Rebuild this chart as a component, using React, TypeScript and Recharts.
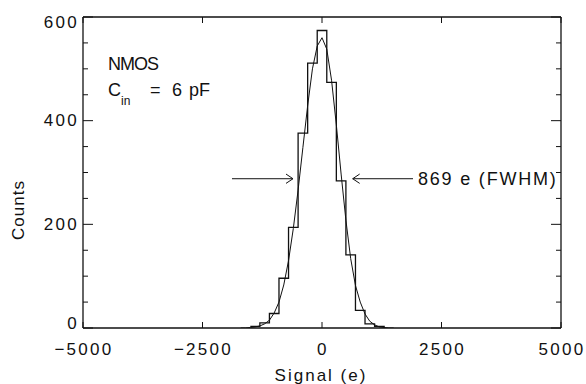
import React from 'react';
import { LineChart, Line, XAxis, YAxis, ReferenceLine } from 'recharts';

// Histogram: left bin edges (e) and counts (bin width 200 e)
const binEdges = [-1500, -1300, -1100, -900, -700, -500, -300, -100, 100, 300, 500, 700, 900, 1100, 1300];
const binCounts = [3, 10, 28, 96, 194, 376, 511, 574, 474, 284, 141, 34, 8, 3, 0];

// Fitted curve
const curveX = [-1700, -1600, -1500, -1400, -1300, -1200, -1100, -1000, -900, -800, -700, -600, -500, -400, -300, -200, -100, 0, 100, 200, 300, 400, 500, 600, 700, 800, 900, 1000, 1100, 1200, 1300, 1400, 1500];
const curveY = [0, 0, 1, 2, 4, 8, 15, 29, 50, 83, 130, 192, 266, 348, 429, 500, 544, 560, 538, 478, 392, 297, 208, 134, 82, 50, 27, 13, 6, 2, 1, 0, 0];

const xTicks = [-5000, -2500, 0, 2500, 5000];
const yTicks = [0, 50, 100, 150, 200, 250, 300, 350, 400, 450, 500, 550, 600];
const yMajor = [0, 200, 400, 600];

const fwhmLabel = '869 e (FWHM)';
const arrowLevel = 288;

const histData = binEdges.map((x, i) => ({ x, y: binCounts[i] }));
const curveData = curveX.map((x, i) => ({ x, y: curveY[i] }));

const FONT = '"Liberation Sans", Arial, sans-serif';
const INK = '#111';

const fmt = (v: number) => (v < 0 ? '\u2212' + Math.abs(v) : String(v));

const LeftTick = (props: any) => {
  const { x, y, payload } = props;
  const v = payload.value;
  const major = yMajor.includes(v);
  const len = major ? 10 : 5;
  let dy = 0;
  if (v === 600) dy = 5;
  if (v === 0) dy = -5;
  return (
    <g>
      <line x1={x} y1={y} x2={x + len} y2={y} stroke={INK} strokeWidth={1} />
      {major && (
        <text x={x - 4} y={y + dy} textAnchor="end" dominantBaseline="central" fontFamily={FONT} fontSize={17} letterSpacing={2.3} fill={INK}>
          {v}
        </text>
      )}
    </g>
  );
};

const RightTick = (props: any) => {
  const { x, y, payload } = props;
  const v = payload.value;
  const major = yMajor.includes(v);
  const len = major ? 10 : 5;
  return <line x1={x} y1={y} x2={x - len} y2={y} stroke={INK} strokeWidth={1} />;
};

const BottomTick = (props: any) => {
  const { x, y, payload } = props;
  const v = payload.value;
  return (
    <g>
      <line x1={x} y1={y} x2={x} y2={y - 6} stroke={INK} strokeWidth={1} />
      <text x={x + 1} y={y + 21.5} textAnchor="middle" dominantBaseline="central" fontFamily={FONT} fontSize={17} letterSpacing={2.3} fill={INK}>
        {fmt(v)}
      </text>
    </g>
  );
};

const TopTick = (props: any) => {
  const { x, y } = props;
  return <line x1={x} y1={y} x2={x} y2={y + 6} stroke={INK} strokeWidth={1} />;
};

const axisLine = { stroke: INK, strokeWidth: 1.3 };

export default function App() {
  const W = 586;
  const H = 384;
  return (
    <div style={{ position: 'fixed', left: 0, top: 0, width: W, height: H, background: '#fff' }}>
      <LineChart width={W} height={H} margin={{ top: 16, right: 15, bottom: 16, left: 0 }}>
        <XAxis
          xAxisId="b"
          type="number"
          dataKey="x"
          domain={[-5000, 5000]}
          ticks={xTicks}
          interval={0}
          orientation="bottom"
          height={40}
          tickSize={0}
          tickMargin={0}
          tickLine={false}
          axisLine={axisLine}
          tick={<BottomTick />}
          allowDataOverflow
        />
        <XAxis
          xAxisId="t"
          type="number"
          dataKey="x"
          domain={[-5000, 5000]}
          ticks={xTicks}
          interval={0}
          orientation="top"
          height={1}
          tickSize={0}
          tickMargin={0}
          tickLine={false}
          axisLine={axisLine}
          tick={<TopTick />}
          allowDataOverflow
        />
        <YAxis
          yAxisId="l"
          type="number"
          domain={[0, 600]}
          ticks={yTicks}
          interval={0}
          orientation="left"
          width={83}
          tickSize={0}
          tickMargin={0}
          tickLine={false}
          axisLine={axisLine}
          tick={<LeftTick />}
          allowDataOverflow
        />
        <YAxis
          yAxisId="r"
          type="number"
          domain={[0, 600]}
          ticks={yTicks}
          interval={0}
          orientation="right"
          width={10}
          tickSize={0}
          tickMargin={0}
          tickLine={false}
          axisLine={axisLine}
          tick={<RightTick />}
          allowDataOverflow
        />
        <Line
          xAxisId="b"
          yAxisId="l"
          data={histData}
          dataKey="y"
          type="stepAfter"
          stroke={INK}
          strokeWidth={1.3}
          dot={false}
          isAnimationActive={false}
        />
        <Line
          xAxisId="b"
          yAxisId="l"
          data={curveData}
          dataKey="y"
          type="linear"
          stroke={INK}
          strokeWidth={1}
          dot={false}
          isAnimationActive={false}
        />
        {/* left arrow */}
        <ReferenceLine xAxisId="b" yAxisId="l" segment={[{ x: -1883, y: arrowLevel }, { x: -607, y: arrowLevel }]} stroke={INK} strokeWidth={1} />
        <ReferenceLine xAxisId="b" yAxisId="l" segment={[{ x: -753, y: arrowLevel + 9 }, { x: -607, y: arrowLevel }]} stroke={INK} strokeWidth={1} />
        <ReferenceLine xAxisId="b" yAxisId="l" segment={[{ x: -753, y: arrowLevel - 9 }, { x: -607, y: arrowLevel }]} stroke={INK} strokeWidth={1} />
        {/* right arrow */}
        <ReferenceLine xAxisId="b" yAxisId="l" segment={[{ x: 642, y: arrowLevel }, { x: 1904, y: arrowLevel }]} stroke={INK} strokeWidth={1} />
        <ReferenceLine xAxisId="b" yAxisId="l" segment={[{ x: 788, y: arrowLevel + 9 }, { x: 642, y: arrowLevel }]} stroke={INK} strokeWidth={1} />
        <ReferenceLine xAxisId="b" yAxisId="l" segment={[{ x: 788, y: arrowLevel - 9 }, { x: 642, y: arrowLevel }]} stroke={INK} strokeWidth={1} />
      </LineChart>
      <svg width={W} height={H} style={{ position: 'absolute', left: 0, top: 0, pointerEvents: 'none' }}>
        <g fontFamily={FONT} fill={INK}>
          <text x={108} y={70} fontSize={18} letterSpacing={-1}>NMOS</text>
          <text x={108} y={96} fontSize={18}>C</text>
          <text x={121} y={105} fontSize={12}>in</text>
          <text x={150} y={96} fontSize={18}>=</text>
          <text x={172} y={96} fontSize={18}>6</text>
          <text x={189} y={96} fontSize={18}>pF</text>
          <text x={418} y={179} fontSize={18} letterSpacing={1.8} dominantBaseline="central">{fwhmLabel}</text>
          <text x={321} y={381} fontSize={17} letterSpacing={2} textAnchor="middle">Signal (e)</text>
          <text x={18} y={210} fontSize={17} letterSpacing={1} textAnchor="middle" dominantBaseline="central" transform="rotate(-90 18 210)">Counts</text>
        </g>
      </svg>
    </div>
  );
}
